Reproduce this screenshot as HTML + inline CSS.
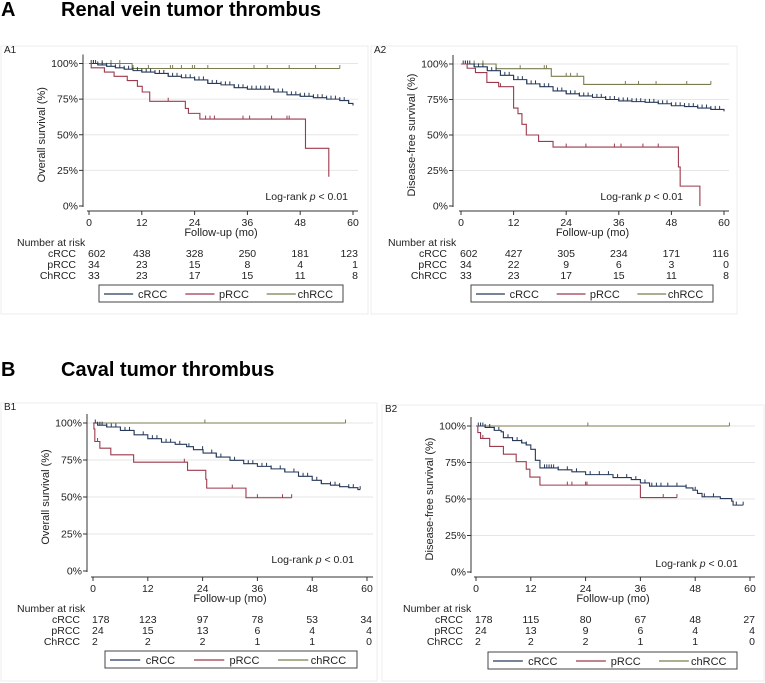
<!DOCTYPE html>
<html><head><meta charset="utf-8"><style>
body{margin:0;background:#fff}
svg{display:block;font-family:"Liberation Sans",Arial,sans-serif}
</style></head><body>
<svg id="fig" width="765" height="683" viewBox="0 0 765 683">
<text x="1" y="16" font-size="20" font-weight="bold">A</text>
<text x="61" y="16" font-size="20" font-weight="bold">Renal vein tumor thrombus</text>
<text x="1" y="376" font-size="20" font-weight="bold">B</text>
<text x="61" y="376" font-size="20" font-weight="bold">Caval tumor thrombus</text>
</svg>
<script>
// ---- data: [time (months), survival (%)] step points ----
const a1_cRCC=[[0,100],[2,99],[4,98],[6,97],[8,96],[10,95],[12,94],[15,93],[18,91],[21,90],[24,88.5],[27,86],[30,85],[33,83],[36,82],[39,82],[42,80],[45,78],[48,77],[51,76],[54,75],[57,74],[59,72],[60,70.5]];
const a1_pRCC=[[0,100],[0.5,97],[3.5,94],[5.7,91],[8.7,88],[11,84],[12.1,80],[13.8,73.5],[21.9,68.5],[22.6,65],[25.2,61],[49.2,40.5],[54.5,20.5]];
const a1_chRCC=[[0,100],[9.8,96.5]];
const a1_cens_c=[0.5,1,1.5,2,3,4,5,6,7,8,9,10,11,12,13,14,15,16,17,18,19,20,21,22,23,24,25,26,27,28,29,30,31,32,33,34,35,36,37,38,39,40,41,42,43,44,45,46,47,48,49,50,51,52,53,54,55,56,57,58,59];
const a1_cens_p=[18,26.5,27.5,28.5,35,36.5,41.5,45,45.5];
const a1_cens_ch=[1,3,5,7,10,13.5,18.5,19,21,23.5,24,27,37.5,40.5,45.5,51.5,57];
const a1_end={c:60,p:54.5,ch:57};
const a1_risk_c=[602,438,328,250,181,123];
const a1_risk_p=[34,23,15,8,4,1];
const a1_risk_ch=[33,23,17,15,11,8];

const a2_cRCC=[[0,100],[3,98],[6,95.3],[9,92],[12,89],[15,86],[18,84],[21,81],[24,79],[27,77.5],[30,76.5],[33,75],[36,74],[39,73.5],[42,73],[45,72],[48,70.6],[51,70],[54,69],[57,68],[60,66.6]];
const a2_pRCC=[[0,100],[1.4,97],[3.3,94],[5.9,87],[8.6,84],[12,69],[13,65],[13.9,57.5],[14.9,50],[17.7,45.5],[21,41.5],[49.6,27.5],[50,14],[54.5,0]];
const a2_chRCC=[[0,100],[8,96.7],[20.6,91.3],[28,85.6]];
const a2_cens_c=[0.5,1,1.5,2,3,4,5,6,7,8,9,10,11,12,13,14,15,16,17,18,19,20,21,22,23,24,25,26,27,28,29,30,31,32,33,34,35,36,37,38,39,40,41,42,43,44,45,46,47,48,49,50,51,52,53,54,55,56,57,58,59];
const a2_cens_p=[9,24,28.5,35,36.5,41.5,45];
const a2_cens_ch=[1,3,5,8,13.5,19,19.5,24,25,26.5,37.5,40.5,44.5,51.5,57];
const a2_end={c:60,p:54.5,ch:57};
const a2_risk_c=[602,427,305,234,171,116];
const a2_risk_p=[34,22,9,6,3,0];
const a2_risk_ch=[33,23,17,15,11,8];

const b1_cRCC=[[0,100],[1,98.5],[3,97.3],[6,95],[9,92],[12,89.4],[15,87],[18,85.6],[20.5,84],[22,82],[24.1,79.7],[27,77],[30,74.8],[33,72.5],[36,70.7],[39,69],[42,66.9],[45,64],[48,61.3],[50,59],[52,58],[54,57],[56,56.3],[58,55]];
const b1_pRCC=[[0,100],[0.2,96],[0.4,87.5],[1.5,83],[3.9,78.5],[8.9,73.5],[20.7,68],[24.7,62],[24.9,56],[33.5,49.5]];
const b1_chRCC=[[0,100]];
const b1_cens_c=[0.5,1,1.5,2,3,4,5,7,8,9,11,13,14,15,16,17,19,21,24,26,27,28,30,31,34,35,37,38,39,41,42,44,46,47,49,50,52,53,54,56,57,58.5];
const b1_cens_p=[1,20,30.5,36,41.5,43.5];
const b1_cens_ch=[24.5,55.3];
const b1_end={c:58.5,p:43.5,ch:55.3};
const b1_risk_c=[178,123,97,78,53,34];
const b1_risk_p=[24,15,13,6,4,4];
const b1_risk_ch=[2,2,2,1,1,0];

const b2_cRCC=[[0,100],[2,99],[4,97],[5.5,96],[6,92],[8,90],[10,88.4],[11,87],[12,84],[13,76.5],[14,71.3],[18,70],[21,68.6],[24,66.7],[30,64.7],[34,63.3],[36,61],[38,58.8],[46,57.6],[47.5,56],[48.5,53.8],[49.5,51.5],[53.5,50.3],[56,48.5],[56.3,45.8]];
const b2_pRCC=[[0,100],[0.4,95.5],[1,91.5],[3,86],[6,80.7],[8.8,75.6],[11,70.4],[11.8,65],[14,59.5],[36,51]];
const b2_chRCC=[[0,100]];
const b2_cens_c=[0.5,1,1.5,2,3,4,5,7,8,9,10,11,15,15.5,16,16.5,17,18,20,22,25,27,29,31,33,35,37,38.5,39.5,40.5,42,44,46,48,50,52,57,58.5];
const b2_cens_p=[1.5,20,21,24,24.3,41,44];
const b2_cens_ch=[24.5,55.5];
const b2_end={c:58.5,p:44,ch:55.5};
const b2_risk_c=[178,115,80,67,48,27];
const b2_risk_p=[24,13,9,6,4,4];
const b2_risk_ch=[2,2,2,1,1,0];

const xTicks=[0,12,24,36,48,60];
const yTicks=[0,25,50,75,100];
const yTickLabels=["0%","25%","50%","75%","100%"];
const groupLabels=["cRCC","pRCC","ChRCC"];
const legendLabels=["cRCC","pRCC","chRCC"];
const COL={c:"#26395a",p:"#9c3a4c",ch:"#7b7d50"};

const svg=document.getElementById('fig');
const NS="http://www.w3.org/2000/svg";
function mk(tag,attrs,parent){const e=document.createElementNS(NS,tag);for(const k in attrs)e.setAttribute(k,attrs[k]);(parent||svg).appendChild(e);return e;}
function txt(x,y,s,size,anchor,parent){const t=mk('text',{x:x,y:y,'font-size':size,'text-anchor':anchor||'start',fill:'#222'},parent);t.textContent=s;return t;}

function survAt(curve,t){let s=100;for(const p of curve){if(p[0]<=t)s=p[1];else break;}return s;}

function drawPanel(g,D){
  const G=mk('g',{},svg);
  
  
  const fr=mk('rect',{x:g.fx,y:g.fy,width:g.fw,height:g.fh,fill:'none',stroke:'#ececec','stroke-width':1},G);
  
  
  const lab=txt(g.fx+3,g.fy+7,g.label,10,'start',G);
  
  
  const X=t=>g.x0+(g.x60-g.x0)*t/60;
  const Y=s=>g.y0-(g.y0-g.y100)*s/100;
  yTicks.forEach((v,i)=>{
    if(v>0){const gl=mk('line',{x1:g.ax,x2:g.right,y1:Y(v),y2:Y(v),stroke:'#e6e6e6','stroke-width':1},G);
      
      }
    mk('line',{x1:g.ax-4,x2:g.ax,y1:Y(v),y2:Y(v),stroke:'#333'},G);
    const tl=txt(g.ax-5,Y(v)+3.5,yTickLabels[i],10.5,'end',G);
    
    
  });
  const ya=mk('line',{x1:g.ax,x2:g.ax,y1:g.y100-9,y2:g.y0+1,stroke:'#333'},G);
  
  
  const xa=mk('line',{x1:X(0)-2,x2:g.right,y1:g.xa,y2:g.xa,stroke:'#333'},G);
  
  
  xTicks.forEach(v=>{
    mk('line',{x1:X(v),x2:X(v),y1:g.xa,y2:g.xa+4,stroke:'#333'},G);
    const tl=txt(X(v),g.xa+15,String(v),10.5,'middle',G);
    
    
  });
  const yt=txt(0,0,g.ytitle,11,'middle',G);
  yt.setAttribute('transform',`translate(${g.ax-38},${(g.y0+g.y100)/2}) rotate(-90)`);
  
  
  const xt=txt((X(0)+X(60))/2,g.xa+25,'Follow-up (mo)',11,'middle',G);
  
  
  [['ch',D.ch,D.cch],['c',D.c,D.cc],['p',D.p,D.cp]].forEach(([k,curve,cens])=>{
    const end=D.end[k];
    let d=`M${X(curve[0][0])},${Y(curve[0][1])}`;
    for(let i=1;i<curve.length;i++){d+=`H${X(curve[i][0])}V${Y(curve[i][1])}`;}
    d+=`H${X(end)}`;
    const path=mk('path',{d:d,fill:'none',stroke:COL[k],'stroke-width':1.1},G);
    
    
    cens.forEach(t=>{
      const s=survAt(curve,t);
      const cm=mk('line',{x1:X(t),x2:X(t),y1:Y(s),y2:Y(s)-3.5,stroke:COL[k],'stroke-width':1},G);
      
      
    });
  });
  const lr=txt(g.lrx,g.lry,'',10.5,'end',G);
  
  
  const t1=mk('tspan',{},lr);t1.textContent='Log-rank  ';
  const t2=mk('tspan',{'font-style':'italic'},lr);t2.textContent='p';
  const t3=mk('tspan',{},lr);t3.textContent=' < 0.01';
  const nr=txt(g.nrx,g.nry,'Number at risk',10.5,'start',G);
  
  
  [D.rc,D.rp,D.rch].forEach((row,ri)=>{
    const y=g.nry+11*(ri+1);
    const gl=txt(g.rlx,y,groupLabels[ri],10.5,'end',G);
    
    
    row.forEach((n,i)=>{
      const anchor=i===0?'start':(i===5?'end':'middle');
      const xx=i===0?X(0)-1:(i===5?X(60)+5:X(xTicks[i]));
      const c=txt(xx,y,String(n),10.5,anchor,G);
      
      
    });
  });
  const L=mk('g',{},G);
  
  
  mk('rect',{x:g.lx,y:g.ly,width:g.lw,height:17,fill:'#fff',stroke:'#444'},L);
  const seg=g.lw/3;
  ['c','p','ch'].forEach((k,i)=>{
    const bx=g.lx+seg*i;
    const ln=mk('line',{x1:bx+5,x2:bx+seg*0.42,y1:g.ly+9,y2:g.ly+9,stroke:COL[k],'stroke-width':1.2},L);
    
    
    const lt=txt(bx+seg*0.66,g.ly+13,legendLabels[i],11,'middle',L);
    
    
  });
}

drawPanel({id:'a1',label:'A1',fx:1,fy:46,fw:367,fh:268,ax:83,x0:89,x60:353,y100:63.5,y0:206,xa:211,right:358,ytitle:'Overall survival (%)',lrx:348,lry:200,nrx:17,nry:246,rlx:76,lx:99,ly:285,lw:244},
 {c:a1_cRCC,p:a1_pRCC,ch:a1_chRCC,cc:a1_cens_c,cp:a1_cens_p,cch:a1_cens_ch,end:a1_end,rc:a1_risk_c,rp:a1_risk_p,rch:a1_risk_ch});
drawPanel({id:'a2',label:'A2',fx:371,fy:46,fw:366,fh:268,ax:453,x0:461,x60:724,y100:64,y0:206,xa:211,right:729,ytitle:'Disease-free survival (%)',lrx:683,lry:200,nrx:388,nry:246,rlx:447,lx:471,ly:285,lw:242},
 {c:a2_cRCC,p:a2_pRCC,ch:a2_chRCC,cc:a2_cens_c,cp:a2_cens_p,cch:a2_cens_ch,end:a2_end,rc:a2_risk_c,rp:a2_risk_p,rch:a2_risk_ch});
drawPanel({id:'b1',label:'B1',fx:1,fy:403,fw:376,fh:278,ax:87,x0:93,x60:367,y100:423,y0:571,xa:577,right:373,ytitle:'Overall survival (%)',lrx:354,lry:563,nrx:17,nry:612,rlx:80,lx:105,ly:651,lw:252},
 {c:b1_cRCC,p:b1_pRCC,ch:b1_chRCC,cc:b1_cens_c,cp:b1_cens_p,cch:b1_cens_ch,end:b1_end,rc:b1_risk_c,rp:b1_risk_p,rch:b1_risk_ch});
drawPanel({id:'b2',label:'B2',fx:382,fy:405,fw:382,fh:276,ax:471,x0:476,x60:750,y100:426,y0:572,xa:577,right:755,ytitle:'Disease-free survival (%)',lrx:738,lry:567,nrx:403,nry:612,rlx:463,lx:488,ly:652,lw:249},
 {c:b2_cRCC,p:b2_pRCC,ch:b2_chRCC,cc:b2_cens_c,cp:b2_cens_p,cch:b2_cens_ch,end:b2_end,rc:b2_risk_c,rp:b2_risk_p,rch:b2_risk_ch});
</script>
</body></html>
